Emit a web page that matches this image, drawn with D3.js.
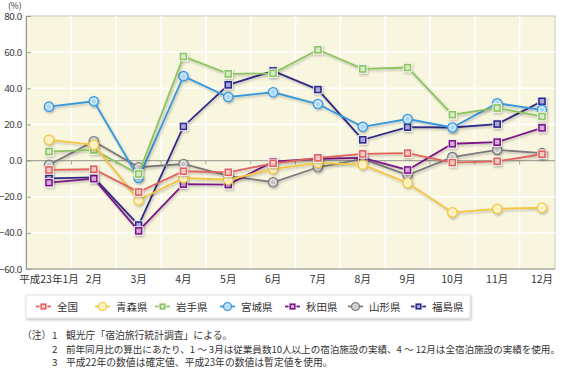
<!DOCTYPE html>
<html>
<head>
<meta charset="utf-8">
<script src="https://cdn.jsdelivr.net/npm/d3@7"></script>
<style>
  body { margin: 0; background: #fff; }
  svg { display: block; font-family: "Noto Sans CJK JP", "Noto Sans", sans-serif; }
</style>
</head>
<body>
<svg id="chart" width="565" height="368"></svg>
<script>
const months = ['平成23年1月', '2月', '3月', '4月', '5月', '6月', '7月', '8月', '9月', '10月', '11月', '12月'];
const yTicks = [-60, -40, -20, 0, 20, 40, 60, 80];

const zenkoku = [-5.2, -4.8, -17.4, -5.9, -6.5, -1.5, 1.5, 3.7, 4.1, -1.1, -0.4, 3.5];
const aomori = [11.5, 8.7, -21.9, -9.6, -10.6, -4.6, -1.3, -2.2, -12.4, -28.7, -26.7, -26.1];
const iwate = [5.0, 5.9, -7.4, 57.6, 48.0, 48.3, 61.3, 50.7, 51.5, 25.4, 29.1, 24.4];
const miyagi = [29.8, 32.8, -9.6, 46.7, 35.2, 37.8, 31.3, 18.7, 23.0, 18.3, 31.7, 28.1];
const akita = [-12.2, -10.0, -38.9, -13.0, -13.3, -0.6, 1.0, 1.5, -5.2, 9.3, 10.2, 18.1];
const yamagata = [-2.4, 10.7, -3.7, -1.9, -8.5, -12.0, -3.7, 0.9, -8.0, 1.9, 5.9, 4.1];
const fukushima = [-9.8, -9.3, -35.7, 18.9, 41.9, 49.6, 39.3, 11.5, 18.5, 18.3, 20.2, 32.8];

const seriesNames = ['全国', '青森県', '岩手県', '宮城県', '秋田県', '山形県', '福島県'];
const seriesValues = [zenkoku, aomori, iwate, miyagi, akita, yamagata, fukushima];

const notes = [
  ['1', '観光庁「宿泊旅行統計調査」による。'],
  ['2', '前年同月比の算出にあたり、1 ～ 3月は従業員数10人以上の宿泊施設の実績、4 ～ 12月は全宿泊施設の実績を使用。'],
  ['3', '平成22年の数値は確定値、平成23年の数値は暫定値を使用。']
];

// styling per series (colour, light fill, marker shape)
const styles = [
  {color: '#e0625c', light: '#f7c9c4', shape: 'square'},
  {color: '#f2c641', light: '#fcefb8', shape: 'circle'},
  {color: '#8cc464', light: '#d6edc3', shape: 'square'},
  {color: '#3897dc', light: '#a9d5f5', shape: 'circle'},
  {color: '#7a1886', light: '#d7a9de', shape: 'square'},
  {color: '#7a7a7a', light: '#c4c4c4', shape: 'circle'},
  {color: '#2d2a86', light: '#a9a7dc', shape: 'square'}
];

const svg = d3.select('#chart');
const plot = {left: 26, right: 555, top: 16, bottom: 269};

const defs = svg.append('defs');
const shadow = defs.append('filter').attr('id', 'shadow')
  .attr('x', '-20%').attr('y', '-20%').attr('width', '140%').attr('height', '140%');
shadow.append('feDropShadow')
  .attr('dx', 1).attr('dy', 1.5).attr('stdDeviation', 1.2)
  .attr('flood-color', '#000').attr('flood-opacity', 0.25);

const x = d3.scalePoint().domain(months).range([49, 542]);
const y = d3.scaleLinear().domain([-60, 80]).range([plot.bottom, plot.top]);
const step = x.step();

// plot background
svg.append('rect')
  .attr('x', plot.left).attr('y', plot.top)
  .attr('width', plot.right - plot.left).attr('height', plot.bottom - plot.top)
  .attr('fill', '#f9f6df')
  .attr('stroke', '#c8c8c0').attr('stroke-width', 1);

// white grid
svg.append('g').selectAll('line')
  .data(yTicks.filter(d => d !== 0 && d !== -60 && d !== 80))
  .join('line')
  .attr('x1', plot.left).attr('x2', plot.right)
  .attr('y1', d => y(d)).attr('y2', d => y(d))
  .attr('stroke', '#fff').attr('stroke-width', 1.5);

svg.append('g').selectAll('line')
  .data(months.slice(1))
  .join('line')
  .attr('x1', d => x(d) - step / 2).attr('x2', d => x(d) - step / 2)
  .attr('y1', plot.top).attr('y2', plot.bottom)
  .attr('stroke', '#fff').attr('stroke-width', 1.5);

// zero line with ticks
svg.append('line')
  .attr('x1', plot.left).attr('x2', plot.right)
  .attr('y1', y(0)).attr('y2', y(0))
  .attr('stroke', '#a8a89a').attr('stroke-width', 1.3);
svg.append('g').selectAll('line')
  .data(months.slice(1))
  .join('line')
  .attr('x1', d => x(d) - step / 2).attr('x2', d => x(d) - step / 2)
  .attr('y1', y(0)).attr('y2', y(0) + 4)
  .attr('stroke', '#a8a89a').attr('stroke-width', 1);

// left axis
const yAxis = d3.axisLeft(y).tickValues(yTicks).tickSize(-5).tickPadding(4)
  .tickFormat(d3.format('.1f'));
const gy = svg.append('g').attr('transform', `translate(${plot.left},0)`).call(yAxis);
gy.select('.domain').attr('stroke', '#9a9a90');
gy.selectAll('.tick line').attr('stroke', '#9a9a90');
gy.selectAll('.tick text').attr('font-size', 9.6).attr('fill', '#333')
  .attr('letter-spacing', -0.3)
  .attr('font-family', '"Noto Sans", sans-serif');
svg.append('line')
  .attr('x1', plot.left).attr('x2', plot.right)
  .attr('y1', plot.bottom).attr('y2', plot.bottom)
  .attr('stroke', '#9a9a90');

svg.append('text').attr('x', 8).attr('y', 9)
  .attr('font-size', 8.5).attr('fill', '#333').text('(%)');

// x labels
svg.append('g').selectAll('text')
  .data(months)
  .join('text')
  .attr('x', d => x(d)).attr('y', 283)
  .attr('text-anchor', 'middle')
  .attr('font-size', 10.5).attr('fill', '#333')
  .text(d => d);

// markers
function drawMarker(g, s, cx, cy, size) {
  if (s.shape === 'square') {
    g.append('rect')
      .attr('x', cx - size / 2).attr('y', cy - size / 2)
      .attr('width', size).attr('height', size)
      .attr('fill', s.color).attr('stroke', '#fff').attr('stroke-width', 0.8);
    g.append('rect')
      .attr('x', cx - size / 2 + 2).attr('y', cy - size / 2 + 2)
      .attr('width', size - 4).attr('height', size - 4)
      .attr('fill', s.light);
  } else {
    g.append('circle')
      .attr('cx', cx).attr('cy', cy).attr('r', size / 2 + 0.5)
      .attr('fill', s.light).attr('stroke', s.color).attr('stroke-width', 1.2);
    g.append('circle')
      .attr('cx', cx).attr('cy', cy).attr('r', size / 2 - 1.5)
      .attr('fill', 'none').attr('stroke', '#fff').attr('stroke-width', 0.8).attr('opacity', 0.7);
  }
}

const line = d3.line().x((d, i) => x(months[i])).y(d => y(d));

// draw last series first so 全国 ends on top
for (let k = seriesValues.length - 1; k >= 0; k--) {
  const s = styles[k];
  const g = svg.append('g').attr('filter', 'url(#shadow)');
  g.append('path')
    .attr('d', line(seriesValues[k]))
    .attr('fill', 'none')
    .attr('stroke', s.color)
    .attr('stroke-width', 1.8);
  seriesValues[k].forEach((v, i) => drawMarker(g, s, x(months[i]), y(v), 8.5));
}

// legend
const legendX = [36, 95, 155, 220, 285, 348, 411];
const lg = svg.append('g');
lg.append('rect')
  .attr('x', 26).attr('y', 295).attr('width', 444).attr('height', 23)
  .attr('fill', '#fff').attr('stroke', '#e2e2e2')
  .attr('filter', 'url(#shadow)');
seriesNames.forEach((name, k) => {
  const s = styles[k];
  const cx = legendX[k];
  lg.append('line')
    .attr('x1', cx).attr('x2', cx + 15)
    .attr('y1', 306.5).attr('y2', 306.5)
    .attr('stroke', s.color).attr('stroke-width', 1.8);
  drawMarker(lg, s, cx + 7.5, 306.5, 7);
  lg.append('text')
    .attr('x', cx + 21).attr('y', 310.5)
    .attr('font-size', 10.5).attr('fill', '#333')
    .text(name);
});

// notes
svg.append('text').attr('x', 22).attr('y', 339)
  .attr('font-size', 9.8).attr('fill', '#333').text('（注）');
notes.forEach((n, i) => {
  const ty = 339 + i * 13.5;
  svg.append('text').attr('x', 52).attr('y', ty)
    .attr('font-size', 9.8).attr('fill', '#333').text(n[0]);
  const t = svg.append('text').attr('x', 66).attr('y', ty)
    .attr('font-size', 9.8).attr('fill', '#333').text(n[1]);
  // shrink the long line so it ends inside the picture
  const w = t.node().getComputedTextLength();
  if (w > 494) t.attr('font-size', 9.8 * 494 / w);
});
</script>
</body>
</html>
